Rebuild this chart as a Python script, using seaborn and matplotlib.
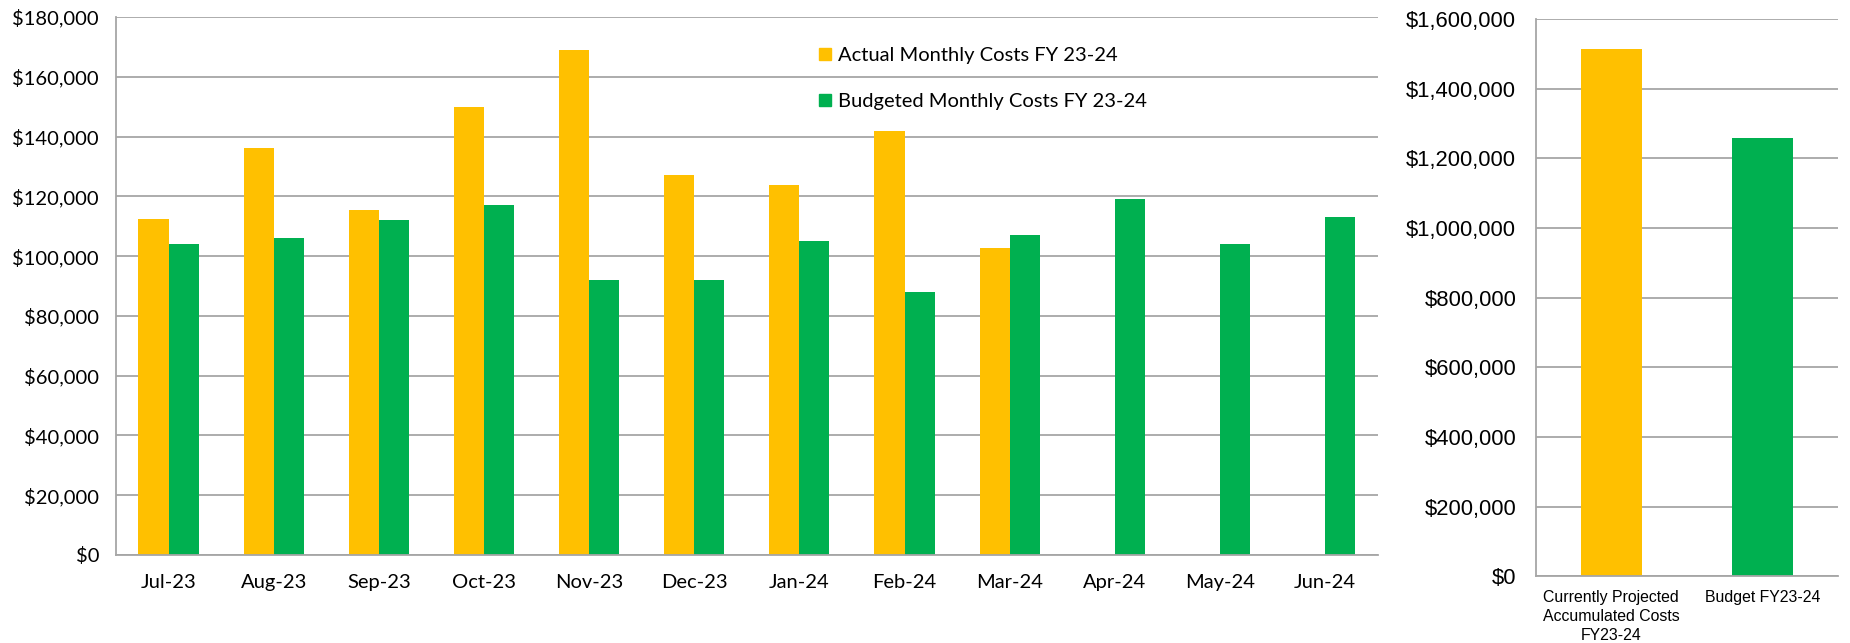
import numpy as np
import pandas as pd
import seaborn as sns
import matplotlib.pyplot as plt
from matplotlib.ticker import FuncFormatter
from matplotlib.lines import Line2D

# monthly data
months = ["Jul-23", "Aug-23", "Sep-23", "Oct-23", "Nov-23", "Dec-23",
          "Jan-24", "Feb-24", "Mar-24", "Apr-24", "May-24", "Jun-24"]
actual = [112400, 136200, 115500, 149800, 168900, 127000,
          123800, 141900, 102800, np.nan, np.nan, np.nan]
budget = [104000, 106000, 112000, 117000, 92000, 92000,
          105000, 88000, 107000, 119000, 104000, 113000]
series_names = ["Actual Monthly Costs FY 23-24", "Budgeted Monthly Costs FY 23-24"]

# yearly totals
total_labels = ["Currently Projected\nAccumulated Costs\nFY23-24", "Budget FY23-24"]
totals = [1515000, 1258000]

colors = ["#FFC000", "#00B050"]
grid_col = "#a6a6a6"

sns.set_style("white")
plt.rcParams["font.family"] = ["Lato", "DejaVu Sans"]
plt.rcParams["text.color"] = "black"
plt.rcParams["xtick.labelcolor"] = "black"
plt.rcParams["ytick.labelcolor"] = "black"

df = pd.DataFrame({
    "Month": months * 2,
    "Cost": actual + budget,
    "Series": [series_names[0]] * 12 + [series_names[1]] * 12,
})

fig = plt.figure(figsize=(18.5, 6.43), dpi=100)
ax1 = fig.add_axes([0.0627, 0.1369, 0.6820, 0.8367])
ax2 = fig.add_axes([0.8301, 0.104, 0.1636, 0.866])

money = FuncFormatter(lambda v, p: f"${v:,.0f}")

# monthly chart
sns.barplot(data=df, x="Month", y="Cost", hue="Series", order=months,
            hue_order=series_names, palette=colors, width=0.572,
            saturation=1, legend=False, linewidth=0, ax=ax1)
ax1.set_ylim(0, 180000)
ax1.set_yticks(np.arange(0, 180001, 20000))
ax1.set_xlim(-0.5, 11.5)
ax1.yaxis.set_major_formatter(money)
ax1.set_xlabel("")
ax1.set_ylabel("")
ax1.set_xticks(range(12))
ax1.set_xticks(np.arange(-0.5, 12, 1), minor=True)
ax1.tick_params(axis="x", which="major", length=0, pad=14, labelsize=14.5)
ax1.tick_params(axis="x", which="minor", length=4.8, width=1.2, color=grid_col)
ax1.tick_params(axis="y", length=5.4, width=1.2, color=grid_col, pad=6.8, labelsize=14.5)

handles = [Line2D([], [], marker="s", ls="", color=c, markersize=9) for c in colors]
ax1.legend(handles, series_names, loc="upper left", bbox_to_anchor=(0.5575, 0.944),
           frameon=False, fontsize=14.5, handlelength=0.6, handletextpad=0.3,
           labelspacing=1.45, borderpad=0, borderaxespad=0)

# totals chart
sns.barplot(x=total_labels, y=totals, hue=total_labels, palette=colors,
            width=0.403, saturation=1, legend=False, linewidth=0, ax=ax2)
ax2.set_ylim(0, 1600000)
ax2.set_yticks(np.arange(0, 1600001, 200000))
ax2.set_xlim(-0.5, 1.5)
ax2.yaxis.set_major_formatter(money)
ax2.set_xticks([0, 1])
ax2.set_xticklabels(total_labels, fontfamily="Liberation Sans", fontsize=11.4,
                    linespacing=1.32)
ax2.set_xticks([-0.5, 0.5, 1.5], minor=True)
ax2.tick_params(axis="x", which="major", length=0, pad=10)
ax2.tick_params(axis="x", which="minor", length=3, width=1.2, color=grid_col)
ax2.tick_params(axis="y", length=5, width=1.2, color=grid_col, pad=9)
for t in ax2.get_yticklabels():
    t.set_fontfamily("Liberation Sans")
    t.set_fontsize(15.8)

for ax in (ax1, ax2):
    ax.set_axisbelow(True)
    ax.yaxis.grid(True, color=grid_col, lw=1.3)
    ax.xaxis.grid(False)
    for s in ("top", "right"):
        ax.spines[s].set_visible(False)
    for s in ("left", "bottom"):
        ax.spines[s].set_color(grid_col)
        ax.spines[s].set_linewidth(1.3)

fig.savefig("out.png", dpi=100)
